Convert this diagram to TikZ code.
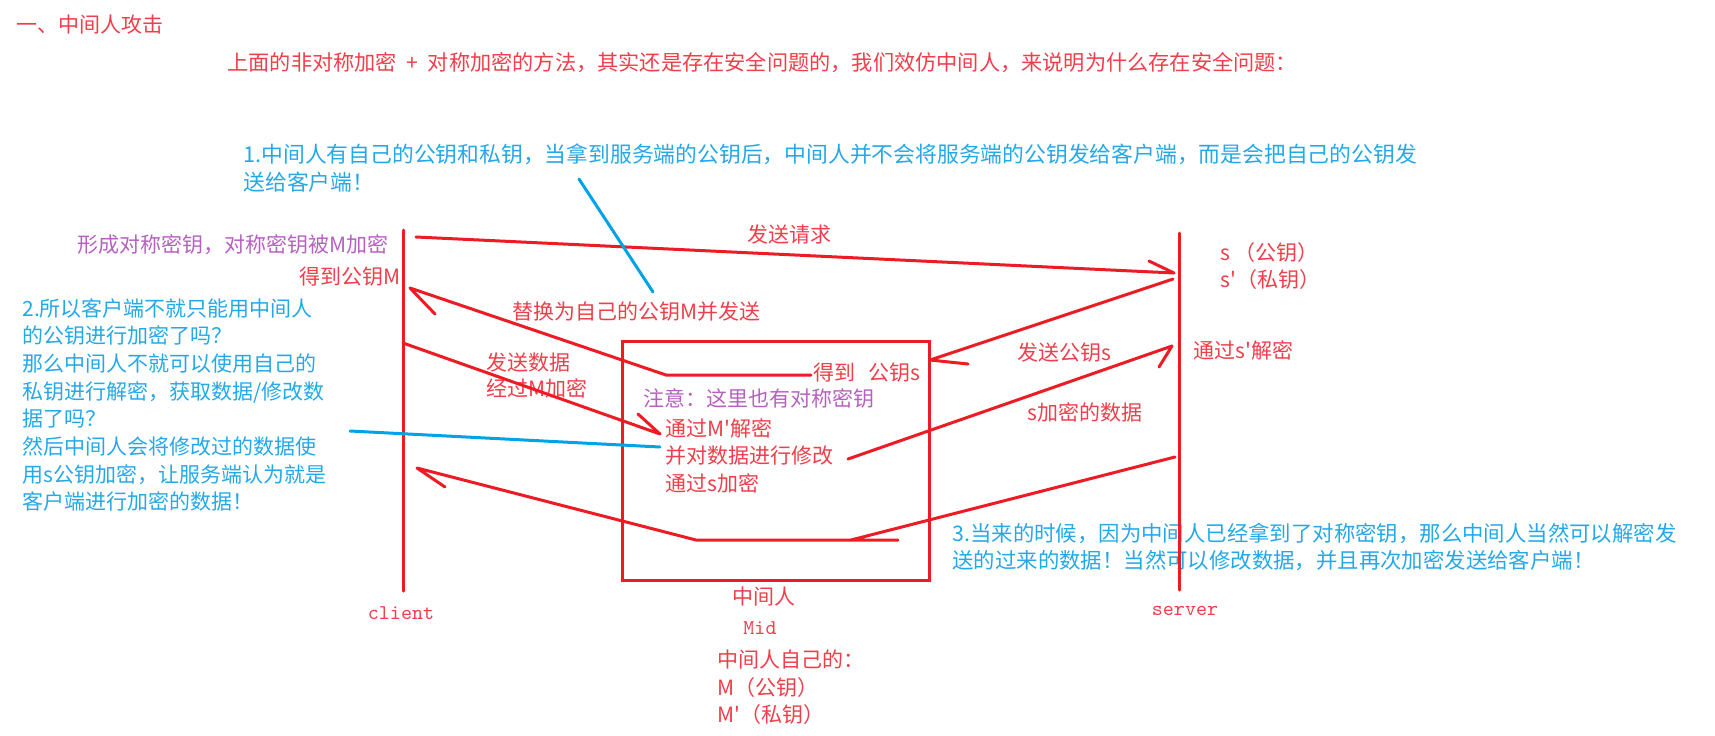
\documentclass[tikz,border=0pt]{standalone}
\usepackage{fontspec}
\newfontfamily\cjk{Noto Sans CJK SC}
\usetikzlibrary{positioning}

\definecolor{penred}{RGB}{237,28,36}
\definecolor{penblue}{RGB}{0,162,232}
\definecolor{txtred}{RGB}{240,62,74}
\definecolor{txtblue}{RGB}{36,168,232}
\definecolor{txtpurple}{RGB}{182,96,192}

\begin{document}
\begin{tikzpicture}[x=0.5pt, y=-0.5pt,
	redtxt/.style={font=\cjk\fontsize{10.5}{13.75}\selectfont, text=txtred, inner sep=0pt, align=left},
	bluetxt/.style={font=\cjk\fontsize{10.5}{13.85}\selectfont, text=txtblue, inner sep=0pt, align=left},
	purpletxt/.style={font=\cjk\fontsize{10.5}{13.75}\selectfont, text=txtpurple, inner sep=0pt},
	ttlabel/.style={font=\ttfamily\fontsize{10.5}{12}\selectfont, text=txtred, inner sep=0pt},
	pen/.style={draw=penred, line width=1.5pt, line cap=round},
	bluepen/.style={draw=penblue, line width=1.5pt, line cap=round}]
	\useasboundingbox (0,0) rectangle (1715,735);

	% Titolo e introduzione
	\node[redtxt, anchor=west] (title) at (16,25) {一、中间人攻击};
	\node[redtxt, font=\cjk\fontsize{10.6}{13.75}\selectfont, anchor=west] (intro) at (227,63) {上面的非对称加密\hspace{0.45em}+\hspace{0.45em}对称加密的方法，其实还是存在安全问题的，我们效仿中间人，来说明为什么存在安全问题：};

	% Note blu
	\node[bluetxt, font=\cjk\fontsize{10.9}{14.25}\selectfont, anchor=west] (note1) at (243,168) {1.中间人有自己的公钥和私钥，当拿到服务端的公钥后，中间人并不会将服务端的公钥发给客户端，而是会把自己的公钥发\\送给客户端！};
	\node[bluetxt, anchor=west] (note2) at (22,405) {2.所以客户端不就只能用中间人\\的公钥进行加密了吗？\\那么中间人不就可以使用自己的\\私钥进行解密，获取数据/修改数\\据了吗？\\然后中间人会将修改过的数据使\\用s公钥加密，让服务端认为就是\\客户端进行加密的数据！};
	\node[bluetxt, font=\cjk\fontsize{10.7}{13.5}\selectfont, anchor=west] (note3) at (952,546.5) {3.当来的时候，因为中间人已经拿到了对称密钥，那么中间人当然可以解密发\\送的过来的数据！当然可以修改数据，并且再次加密发送给客户端！};

	% Lato client
	\node[purpletxt, anchor=east] (symkey) at (389,245) {形成对称密钥，对称密钥被M加密};
	\node[redtxt, anchor=east] (gotM) at (401,277) {得到公钥M};
	\node[ttlabel] (client) at (401,613) {client};

	% Lato server
	\node[redtxt, font=\cjk\fontsize{10.5}{13.5}\selectfont, anchor=west] (svkeys) at (1220,266.5) {s\hspace{0.2em}（公钥）\\s'（私钥）};
	\node[redtxt, anchor=west] (svdec) at (1193,350) {通过s'解密};
	\node[ttlabel] (server) at (1185,611) {server};

	% Intermediario
	\node[draw=penred, line width=1.5pt, minimum width=153.5pt, minimum height=119.5pt, inner sep=0pt] (mid) at (775.5,460.5) {};
	\node[redtxt, anchor=west] (gotS) at (813,373) {得到\hspace{0.6em}公钥s};
	\node[purpletxt, anchor=west] (notice) at (643,398) {注意：这里也有对称密钥};
	\node[redtxt, anchor=west] (midsteps) at (665,455.5) {通过M'解密\\并对数据进行修改\\通过s加密};
	\node[redtxt] (midname) at (764,597) {中间人};
	\node[ttlabel] (midtag) at (760,628) {Mid};
	\node[redtxt, anchor=west] (midkeys) at (717,687.5) {中间人自己的：\\M（公钥）\\M'（私钥）};

	% Etichette dei messaggi
	\node[redtxt] (lblReq) at (789,235) {发送请求};
	\node[redtxt, anchor=west] (lblSwap) at (512,312) {替换为自己的公钥M并发送};
	\node[redtxt, font=\cjk\fontsize{10.5}{13}\selectfont, anchor=west] (lblData) at (486,375) {发送数据\\经过M加密};
	\node[redtxt, anchor=west] (lblPkS) at (1017,353) {发送公钥s};
	\node[redtxt, anchor=west] (lblEnc) at (1027,412) {s加密的数据};

	% Linee di vita
	\coordinate (clTop) at (403,230);
	\coordinate (clBot) at (403,591);
	\coordinate (svTop) at (1179,233);
	\coordinate (svBot) at (1179,590);
	\draw[pen] (clTop) -- (clBot);
	\draw[pen] (svTop) -- (svBot);

	% Richiesta client -> server
	\coordinate (reqA) at (416,237);
	\coordinate (reqB) at (1174,273);
	\coordinate (reqBarb) at (1149,261);
	\draw[pen] (reqA) -- (reqB) (reqBarb) -- (reqB);

	% Chiave s server -> intermediario
	\coordinate (pkA) at (1173,279);
	\coordinate (pkB) at (930,360);
	\coordinate (pkBarb) at (968,364);
	\draw[pen] (pkA) -- (pkB) (pkBarb) -- (pkB);

	% Chiave M intermediario -> client
	\coordinate (swA) at (666,375);
	\coordinate (swB) at (811,375);
	\coordinate (swTip) at (410,288);
	\coordinate (swBarb) at (435,314);
	\draw[pen] (swB) -- (swA) -- (swTip) (swBarb) -- (swTip);

	% Dati client -> intermediario
	\coordinate (dataA) at (403,343);
	\coordinate (dataB) at (660,434);
	\coordinate (dataBarb) at (638,414);
	\draw[pen] (dataA) -- (dataB) (dataBarb) -- (dataB);

	% Dati cifrati con s -> server
	\coordinate (encA) at (848,459);
	\coordinate (encB) at (1172,346);
	\coordinate (encBarb) at (1159,367);
	\draw[pen] (encA) -- (encB) (encBarb) -- (encB);

	% Risposta server -> intermediario -> client
	\coordinate (backA) at (1175,457);
	\coordinate (backB) at (851,540);
	\coordinate (backBarb) at (898,540);
	\coordinate (backC) at (696,540);
	\coordinate (backTip) at (417,468);
	\coordinate (backTipBarb) at (445,487);
	\draw[pen] (backA) -- (backB) (backBarb) -- (backB);
	\draw[pen] (backB) -- (backC) -- (backTip) (backTipBarb) -- (backTip);

	% Richiami blu
	\coordinate (callA) at (579,179);
	\coordinate (callB) at (653,292);
	\draw[bluepen] (callA) -- (callB);
	\coordinate (callC) at (350,431);
	\coordinate (callD) at (660,447);
	\draw[bluepen] (callC) -- (callD);
\end{tikzpicture}
\end{document}
